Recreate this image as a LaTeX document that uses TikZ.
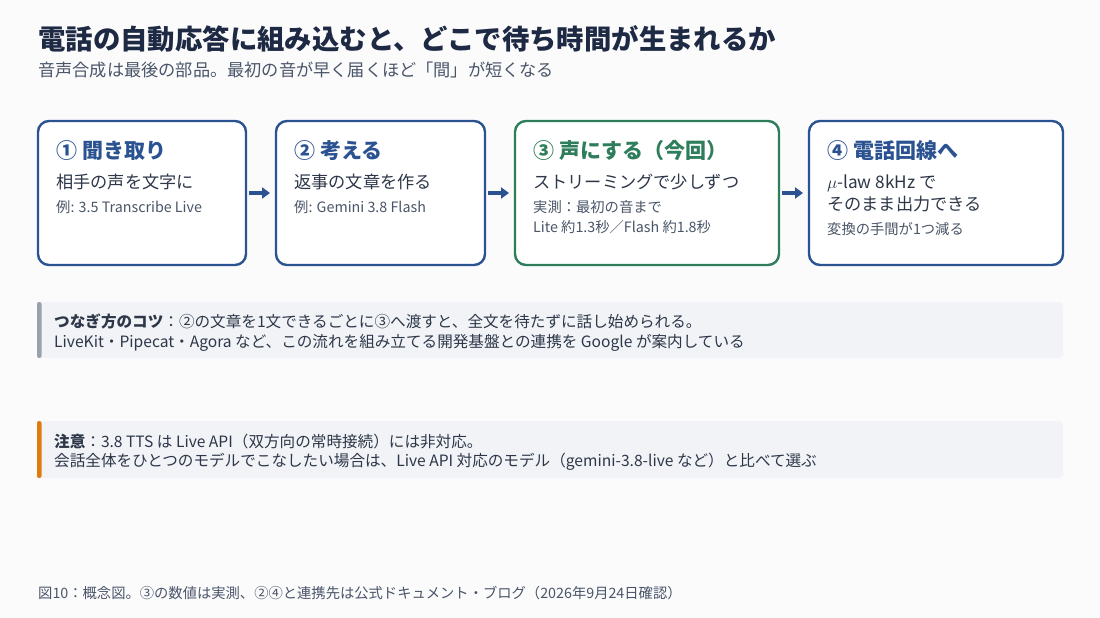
\documentclass[tikz,border=0pt]{standalone}
\usepackage{fontspec}
\setmainfont{Noto Sans CJK JP}
\usetikzlibrary{positioning,arrows.meta}

\definecolor{bgcol}{HTML}{FBFBFC}
\definecolor{navy}{HTML}{1E2A44}
\definecolor{stepblue}{HTML}{2B5391}
\definecolor{stepgreen}{HTML}{2E7D5B}
\definecolor{bodytext}{HTML}{2D3748}
\definecolor{subtext}{HTML}{4A5568}
\definecolor{notefill}{HTML}{F1F3F7}
\definecolor{notebar}{HTML}{9AA1AD}
\definecolor{warnbar}{HTML}{E07B0E}

\begin{document}
\begin{tikzpicture}[x=1pt,y=-1pt,
    stage/.style={draw=stepblue,fill=white,line width=2.4pt,rounded corners=11pt,
      minimum height=144pt,inner sep=0pt,outer sep=0pt},
    head/.style={anchor=base west,inner sep=0pt,text=stepblue,
      font=\fontsize{21}{25}\selectfont\bfseries},
    main/.style={anchor=base west,inner sep=0pt,text=bodytext,
      font=\fontsize{17.2}{21}\selectfont},
    small/.style={anchor=base west,inner sep=0pt,text=subtext,
      font=\fontsize{14.3}{17}\selectfont},
    flow/.style={-{Triangle[length=8pt,width=11pt]},draw=stepblue,line width=3.2pt,
      shorten <=2.5pt,shorten >=6pt},
    notebox/.style={fill=notefill,rounded corners=4pt,minimum width=1026pt,
      minimum height=56pt,inner sep=0pt,outer sep=0pt,anchor=north west},
    notetext/.style={anchor=base west,inner sep=0pt,text=bodytext,
      font=\fontsize{15.6}{19}\selectfont}]

  \fill[bgcol] (0,0) rectangle (1100,618);
  \useasboundingbox (0,0) rectangle (1100,618);

  % title
  \node[anchor=base west,inner sep=0pt,text=navy,font=\fontsize{27.4}{32}\selectfont\bfseries]
    (ttl) at (38,50) {電話の自動応答に組み込むと、どこで待ち時間が生まれるか};
  \node[anchor=base west,inner sep=0pt,text=subtext,font=\fontsize{17.2}{21}\selectfont]
    (sub) at (38,77) {音声合成は最後の部品。最初の音が早く届くほど「間」が短くなる};

  % the four stages
  \node[stage,minimum width=208pt,anchor=north west] (s1) at (38,121) {};
  \node[stage,minimum width=209pt,right=30pt of s1] (s2) {};
  \node[stage,minimum width=264pt,right=30pt of s2,draw=stepgreen] (s3) {};
  \node[stage,minimum width=254pt,right=30pt of s3] (s4) {};

  \node[head] (h1) at ([shift={(18,37)}]s1.north west) {① 聞き取り};
  \node[main] (m1) at ([shift={(18,67)}]s1.north west) {相手の声を文字に};
  \node[small] (e1) at ([shift={(18,91)}]s1.north west) {例: 3.5 Transcribe Live};

  \node[head] (h2) at ([shift={(18,37)}]s2.north west) {② 考える};
  \node[main] (m2) at ([shift={(18,67)}]s2.north west) {返事の文章を作る};
  \node[small] (e2) at ([shift={(18,91)}]s2.north west) {例: Gemini 3.8 Flash};

  \node[head,text=stepgreen] (h3) at ([shift={(18,37)}]s3.north west) {③ 声にする（今回）};
  \node[main] (m3) at ([shift={(18,67)}]s3.north west) {ストリーミングで少しずつ};
  \node[small] (e3) at ([shift={(18,91)}]s3.north west) {実測：最初の音まで};
  \node[small] (f3) at ([shift={(18,111)}]s3.north west) {Lite 約1.3秒／Flash 約1.8秒};

  \node[head] (h4) at ([shift={(18,37)}]s4.north west) {④ 電話回線へ};
  \node[main] (m4) at ([shift={(18,67)}]s4.north west) {$\mu$-law 8kHz で};
  \node[main] (g4) at ([shift={(18,89)}]s4.north west) {そのまま出力できる};
  \node[small] (e4) at ([shift={(18,113)}]s4.north west) {変換の手間が1つ減る};

  \draw[flow] (s1) -- (s2);
  \draw[flow] (s2) -- (s3);
  \draw[flow] (s3) -- (s4);

  % notes
  \node[notebox] (n1) at (37,302) {};
  \fill[notebar,rounded corners=2pt] (n1.north west) rectangle ([xshift=4.5pt]n1.south west);
  \node[notetext] (n1a) at ([shift={(17,25)}]n1.north west)
    {\textbf{つなぎ方のコツ}：②の文章を1文できるごとに③へ渡すと、全文を待たずに話し始められる。};
  \node[notetext] (n1b) at ([shift={(17,45)}]n1.north west)
    {LiveKit・Pipecat・Agora など、この流れを組み立てる開発基盤との連携を Google が案内している};

  \node[notebox,minimum height=57pt] (n2) at (37,421) {};
  \fill[warnbar,rounded corners=2pt] (n2.north west) rectangle ([xshift=4.5pt]n2.south west);
  \node[notetext] (n2a) at ([shift={(17,26)}]n2.north west)
    {\textbf{注意}：3.8 TTS は Live API（双方向の常時接続）には非対応。};
  \node[notetext] (n2b) at ([shift={(17,45)}]n2.north west)
    {会話全体をひとつのモデルでこなしたい場合は、Live API 対応のモデル（gemini-3.8-live など）と比べて選ぶ};

  % caption
  \node[small] (cap) at (38,598)
    {図10：概念図。③の数値は実測、②④と連携先は公式ドキュメント・ブログ（2026年9月24日確認）};
\end{tikzpicture}
\end{document}
